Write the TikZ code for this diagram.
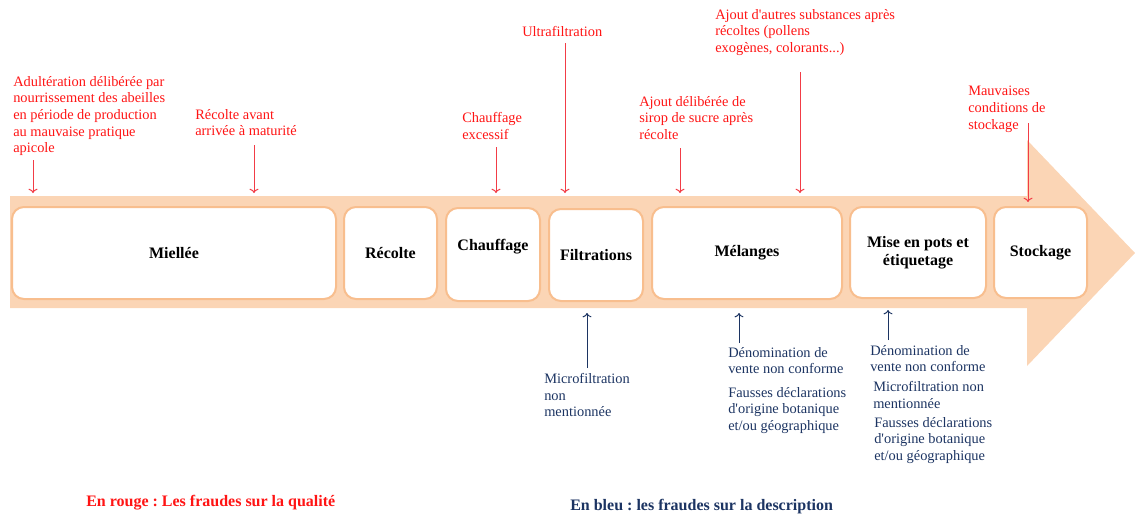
\documentclass[tikz,border=0pt]{standalone}
\usepackage{fontspec}
\setmainfont{Liberation Serif}
\usetikzlibrary{arrows.meta}
\frenchspacing

\definecolor{bande}{RGB}{251,213,181}
\definecolor{bord}{RGB}{248,190,142}
\definecolor{rouge}{RGB}{255,20,20}
\definecolor{rougefl}{RGB}{242,60,70}
\definecolor{bleu}{RGB}{28,52,98}

\begin{document}
\begin{tikzpicture}[x=0.75pt, y=-0.75pt,
		etape/.style={draw=bord, line width=1.5pt, fill=white, rounded corners=9pt,
			font=\fontsize{12}{13.5}\selectfont\bfseries, align=center},
		qualite/.style={rouge, anchor=north west, inner sep=0pt, align=left,
			font=\fontsize{10.8}{12.5}\selectfont},
		descr/.style={bleu, anchor=north west, inner sep=0pt, align=left,
			font=\fontsize{10.8}{12.5}\selectfont},
		flrouge/.style={->, rougefl, line width=0.75pt},
		flbleue/.style={->, bleu, line width=0.75pt}]
			\useasboundingbox (0,0) rectangle (1135,515);
			% Big arrow (band)
			\fill[bande] (10,196) -- (1027,196) -- (1027,140) -- (1135,253)
				-- (1027,366) -- (1027,308) -- (10,308) -- cycle;
			% Steps
			\node[etape, minimum width=243pt, minimum height=69pt] (miellee) at (174,253) {Miellée};
			\node[etape, minimum width=69.75pt, minimum height=69pt] (recolte) at (390.5,253) {Récolte};
			\node[etape, minimum width=70.5pt, minimum height=69.75pt] (chauffage) at (493,254.5)
				{\raisebox{14pt}{Chauffage}};
			\node[etape, minimum width=70.5pt, minimum height=69pt] (filtrations) at (596,255) {Filtrations};
			\node[etape, minimum width=142.5pt, minimum height=69pt] (melanges) at (747,253) {Mélanges};
			\node[etape, minimum width=102pt, minimum height=68.25pt] (mise) at (918,252.5)
				{Mise en pots et\\étiquetage};
			\node[etape, minimum width=69.75pt, minimum height=68.25pt] (stockage) at (1040.5,252.5) {Stockage};
			% Frauds on quality (red)
			\node[qualite] (adulteration) at (13,76) {Adultération délibérée par\\nourrissement des abeilles\\en période de production\\au mauvaise pratique\\apicole};
			\node[qualite] (recavant) at (195,109) {Récolte avant\\arrivée à maturité};
			\node[qualite] (chauffexc) at (462,112) {Chauffage\\excessif};
			\node[qualite] (ultra) at (522,26) {Ultrafiltration};
			\node[qualite] (sirop) at (639,96) {Ajout délibérée de\\sirop de sucre après\\récolte};
			\node[qualite] (autres) at (715,9) {Ajout d\textquotesingle autres substances après\\récoltes (pollens\\exogènes, colorants...)};
			\node[qualite] (mauvaises) at (968,86) {Mauvaises\\conditions de\\stockage};
			\coordinate (adulteration-a) at (33,160);
			\coordinate (adulteration-b) at (33,193);
			\coordinate (recavant-a) at (254,145);
			\coordinate (recavant-b) at (254,193);
			\coordinate (chauffexc-a) at (496,147);
			\coordinate (chauffexc-b) at (496,193);
			\coordinate (ultra-a) at (565,43);
			\coordinate (ultra-b) at (565,193);
			\coordinate (sirop-a) at (680,148);
			\coordinate (sirop-b) at (680,193);
			\coordinate (autres-a) at (800,72);
			\coordinate (autres-b) at (800,193);
			\coordinate (mauvaises-a) at (1028,123);
			\coordinate (mauvaises-b) at (1028,202);
			\draw[flrouge] (adulteration-a) -- (adulteration-b);
			\draw[flrouge] (recavant-a) -- (recavant-b);
			\draw[flrouge] (chauffexc-a) -- (chauffexc-b);
			\draw[flrouge] (ultra-a) -- (ultra-b);
			\draw[flrouge] (sirop-a) -- (sirop-b);
			\draw[flrouge] (autres-a) -- (autres-b);
			\draw[flrouge] (mauvaises-a) -- (mauvaises-b);
			% Frauds on description (blue)
			\node[descr] (microfilt) at (544,373) {Microfiltration\\non\\mentionnée};
			\node[descr] (denom) at (728,347) {Dénomination de\\vente non conforme};
			\node[descr] (fausses) at (728,387) {Fausses déclarations\\d\textquotesingle origine botanique\\et/ou géographique};
			\node[descr] (denomb) at (870,345) {Dénomination de\\vente non conforme};
			\node[descr] (microfiltb) at (873,381) {Microfiltration non\\mentionnée};
			\node[descr] (faussesb) at (874,417) {Fausses déclarations\\d\textquotesingle origine botanique\\et/ou géographique};
			\coordinate (microfilt-a) at (587,368);
			\coordinate (microfilt-b) at (587,313);
			\coordinate (denom-a) at (739,343);
			\coordinate (denom-b) at (739,313);
			\coordinate (denomb-a) at (888,340);
			\coordinate (denomb-b) at (888,310);
			\draw[flbleue] (microfilt-a) -- (microfilt-b);
			\draw[flbleue] (denom-a) -- (denom-b);
			\draw[flbleue] (denomb-a) -- (denomb-b);
			% Legend
			\node[rouge, anchor=west, inner sep=0pt, font=\fontsize{12}{14}\selectfont\bfseries]
				(legrouge) at (86,503) {En rouge : Les fraudes sur la qualité};
			\node[bleu, anchor=west, inner sep=0pt, font=\fontsize{12}{14}\selectfont\bfseries]
				(legbleu) at (570,507) {En bleu : les fraudes sur la description};
		\end{tikzpicture}
\end{document}
